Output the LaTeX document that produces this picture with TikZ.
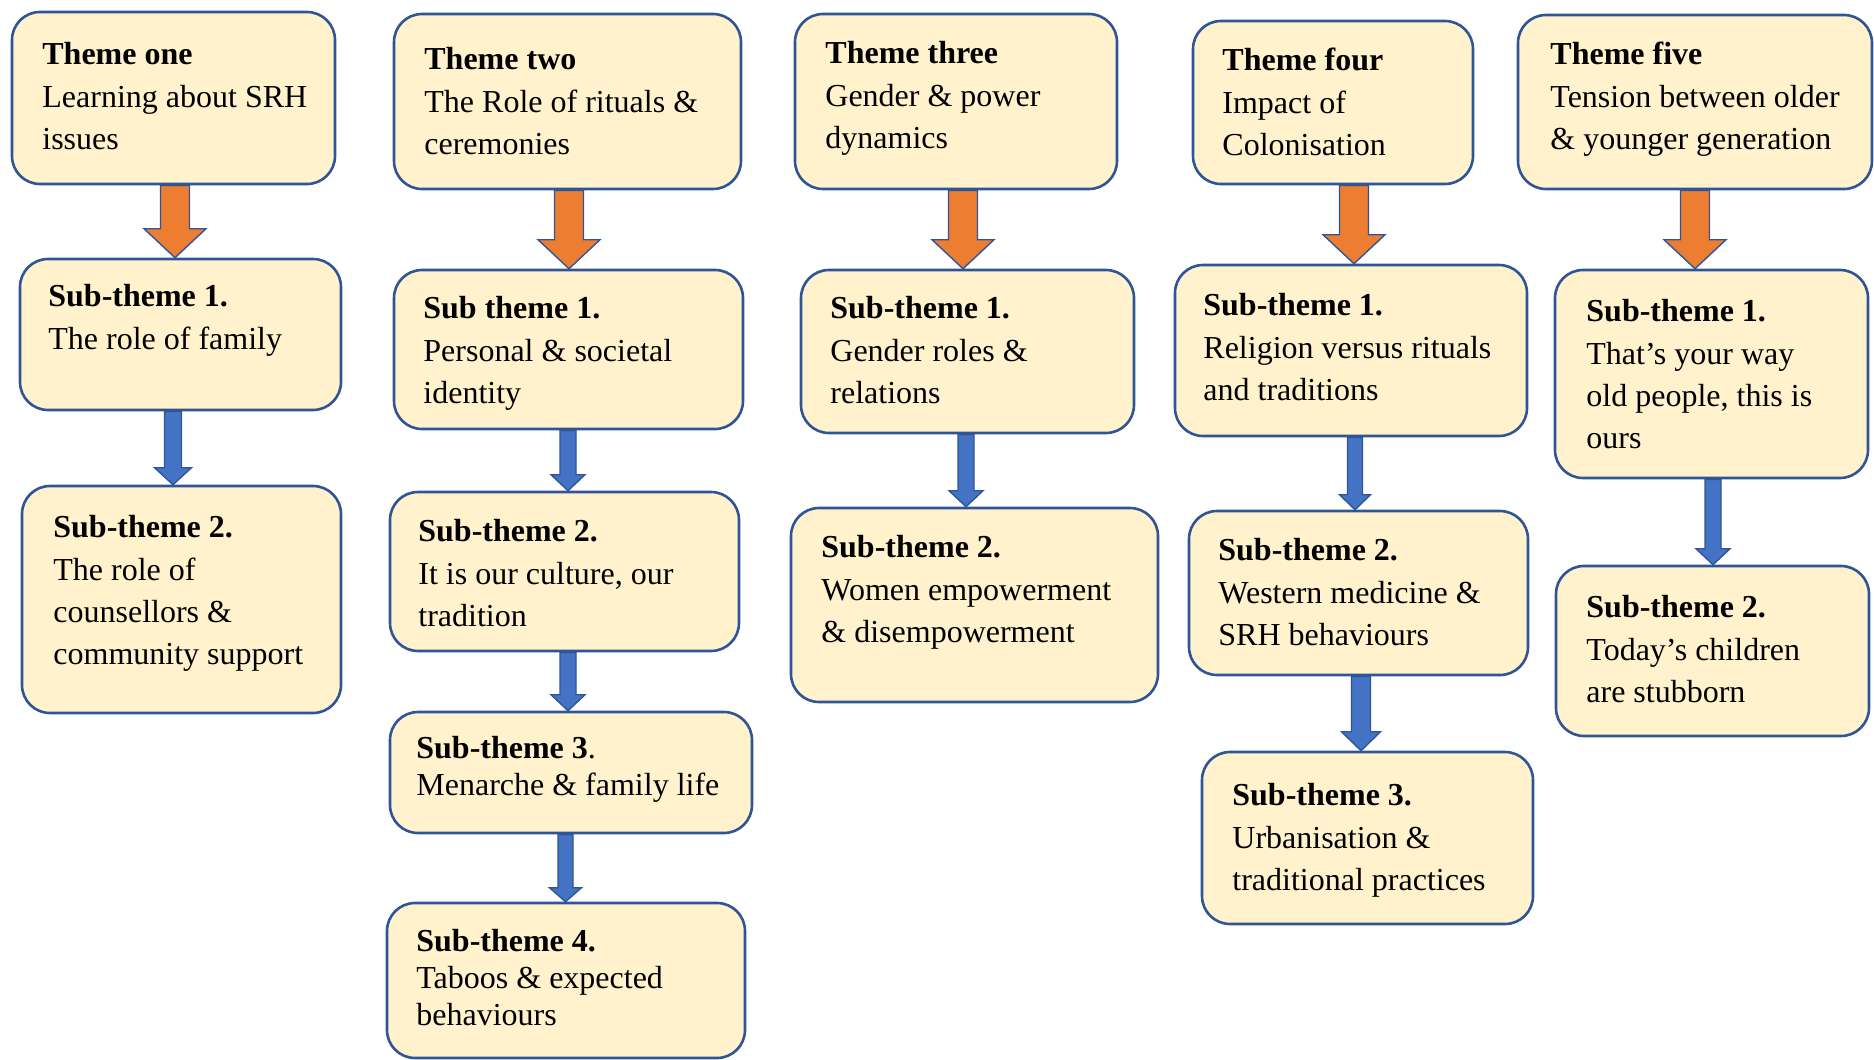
\documentclass[tikz,border=0pt]{standalone}
\usepackage{fontspec}
\IfFontExistsTF{LiberationSerif-Regular.ttf}
  {\setmainfont{LiberationSerif}[Extension=.ttf, UprightFont=*-Regular, BoldFont=*-Bold, ItalicFont=*-Italic, BoldItalicFont=*-BoldItalic]}
  {\setmainfont{Liberation Serif}}
\usetikzlibrary{calc,fit}
\definecolor{boxfill}{HTML}{FFF2CC}
\definecolor{boxline}{HTML}{2F5597}
\definecolor{orangearr}{HTML}{ED7D31}
\definecolor{bluearr}{HTML}{4472C4}

\tikzset{
  box/.style={draw=boxline, fill=boxfill, line width=1.3pt, rounded corners=14pt, inner sep=0pt},
  txt/.style={anchor=north west, align=left, inner sep=0pt, font=\rmfamily\fontsize{16}{21.2}\selectfont},
  txtc/.style={txt, font=\rmfamily\fontsize{16}{18.5}\selectfont},
  orangearrow/.style={draw=boxline, line width=0.7pt, fill=orangearr},
  bluearrow/.style={draw=boxline, line width=0.7pt, fill=bluearr},
}

% rounded box: [text style] name, x1, y1, x2, y2, text left, first baseline, text
\newcommand\themebox[9][txt]{%
  \node[box, fit={(#3,#4) (#5,#6)}] (#2) {};
  \node[#1] (#2-text) at (#7,#8-21) {#9};
}
% block arrow: style, x, from node, to node, shaft half width, head half width, head length
\newcommand\fatarrow[7]{%
  \coordinate (ax) at (#2,0);
  \draw[#1] ($(#3.south -| ax)+(-#5,0)$) -- ($(#4.north -| ax)+(-#5,-#7)$)
    -- ($(#4.north -| ax)+(-#6,-#7)$) -- (#4.north -| ax)
    -- ($(#4.north -| ax)+(#6,-#7)$) -- ($(#4.north -| ax)+(#5,-#7)$)
    -- ($(#3.south -| ax)+(#5,0)$) -- cycle;
}
\newcommand\orangearrow[3]{\fatarrow{orangearrow}{#1}{#2}{#3}{14.5}{31}{29}}
% [shaft half, head half, head length] x, from, to
\newcommand\bluearrow[4][8/17/16]{%
  \foreach \s/\h/\l in {#1}{\fatarrow{bluearrow}{#2}{#3}{#4}{\s}{\h}{\l}}}

\begin{document}
\begin{tikzpicture}[x=0.5pt, y=-0.5pt]
\useasboundingbox (0,0) rectangle (1874,1060);

% column one
\themebox{t1}{12}{12}{335}{184}{42}{63}{\textbf{Theme one}\\Learning about SRH\\issues}
\themebox{t1a}{20}{259}{341}{410}{48}{305}{\textbf{Sub-theme 1.}\\The role of family}
\themebox{t1b}{22}{486}{341}{713}{53}{536}{\textbf{Sub-theme 2.}\\The role of\\counsellors \&\\community support}

% column two
\themebox{t2}{394}{14}{741}{189}{424}{68}{\textbf{Theme two}\\The Role of rituals \&\\ceremonies}
\themebox{t2a}{394}{270}{743}{429}{423}{317}{\textbf{Sub theme 1.}\\Personal \& societal\\identity}
\themebox{t2b}{390}{492}{739}{651}{418}{540}{\textbf{Sub-theme 2.}\\It is our culture, our\\tradition}
\themebox[txtc]{t2c}{390}{712}{752}{833}{416}{757}{\textbf{Sub-theme 3}.\\Menarche \& family life}
\themebox[txtc]{t2d}{387}{903}{745}{1058}{416}{950}{\textbf{Sub-theme 4.}\\Taboos \& expected\\behaviours}

% column three
\themebox{t3}{795}{14}{1117}{189}{825}{62}{\textbf{Theme three}\\Gender \& power\\dynamics}
\themebox{t3a}{801}{270}{1134}{433}{830}{317}{\textbf{Sub-theme 1.}\\Gender roles \&\\relations}
\themebox{t3b}{791}{508}{1158}{702}{821}{556}{\textbf{Sub-theme 2.}\\Women empowerment\\\& disempowerment}

% column four
\themebox{t4}{1193}{21}{1473}{184}{1222}{69}{\textbf{Theme four}\\Impact of\\Colonisation}
\themebox{t4a}{1175}{265}{1527}{436}{1203}{314}{\textbf{Sub-theme 1.}\\Religion versus rituals\\and traditions}
\themebox{t4b}{1189}{511}{1528}{675}{1218}{559}{\textbf{Sub-theme 2.}\\Western medicine \&\\SRH behaviours}
\themebox{t4c}{1202}{752}{1533}{924}{1232}{804}{\textbf{Sub-theme 3.}\\Urbanisation \&\\traditional practices}

% column five
\themebox{t5}{1518}{15}{1872}{189}{1550}{63}{\textbf{Theme five}\\Tension between older\\\& younger generation}
\themebox{t5a}{1555}{270}{1868}{478}{1586}{320}{\textbf{Sub-theme 1.}\\That’s your way\\old people, this is\\ours}
\themebox{t5b}{1556}{566}{1869}{736}{1586}{616}{\textbf{Sub-theme 2.}\\Today’s children\\are stubborn}

% connectors
\orangearrow{175}{t1}{t1a}
\bluearrow[8.5/18.5/17]{173}{t1a}{t1b}

\orangearrow{569}{t2}{t2a}
\bluearrow{568}{t2a}{t2b}
\bluearrow{568}{t2b}{t2c}
\bluearrow[7.5/16/14]{565.5}{t2c}{t2d}

\orangearrow{963}{t3}{t3a}
\bluearrow{966}{t3a}{t3b}

\orangearrow{1354}{t4}{t4a}
\bluearrow[7.5/15.5/15]{1355}{t4a}{t4b}
\bluearrow[9.5/19.5/19]{1361}{t4b}{t4c}

\orangearrow{1695}{t5}{t5a}
\bluearrow{1713}{t5a}{t5b}
\end{tikzpicture}
\end{document}
